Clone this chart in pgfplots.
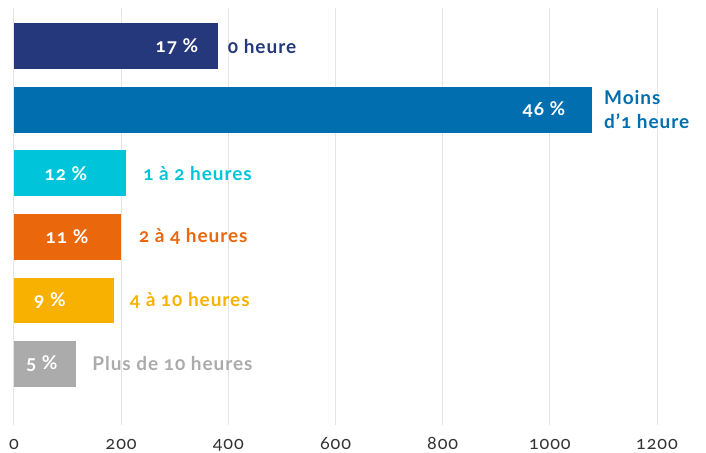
\documentclass[border=0pt]{standalone}
\usepackage{fontspec}
\setmainfont{Lato}[Numbers=OldStyle, LetterSpace=5]
\usepackage{pgfplots}
\pgfplotsset{compat=1.18}
\definecolor{cA}{RGB}{37,56,123}
\definecolor{cB}{RGB}{0,110,175}
\definecolor{cC}{RGB}{0,197,218}
\definecolor{cD}{RGB}{234,103,12}
\definecolor{cE}{RGB}{248,177,0}
\definecolor{cF}{RGB}{171,171,171}
\begin{document}
\begin{tikzpicture}[x=1pt,y=1pt]
\useasboundingbox (0,0) rectangle (706,452);
\begin{axis}[
  at={(14pt,27pt)}, anchor=south west,
  scale only axis, width=643pt, height=417pt,
  xmin=0, xmax=1200, ymin=-0.96, ymax=5.6,
  axis line style={draw=none},
  ytick=\empty,
  xtick={0,200,400,600,800,1000,1200},
  major tick length=0pt,
  xmajorgrids,
  grid style={color=black!10, line width=1pt},
  /pgf/number format/assume math mode=true,
  /pgf/number format/1000 sep={},
  xticklabel style={anchor=base, yshift=-24pt, font=\fontsize{18}{18}\selectfont, text=black!80},
  xbar, bar width=0.72, bar shift=0pt,
  clip=false,
]
\addplot[draw=none, fill=cA] coordinates {(381,5)};
\addplot[draw=none, fill=cB] coordinates {(1078,4)};
\addplot[draw=none, fill=cC] coordinates {(209,3)};
\addplot[draw=none, fill=cD] coordinates {(200,2)};
\addplot[draw=none, fill=cE] coordinates {(187,1)};
\addplot[draw=none, fill=cF] coordinates {(116,0)};
\begin{scope}[every node/.style={font=\fontsize{19}{24}\selectfont\bfseries}]
\node[text=white] at (axis cs:304,5) {17 \%};
\node[text=white] at (axis cs:989,4) {46 \%};
\node[text=white] at (axis cs:97,3) {12 \%};
\node[text=white] at (axis cs:99,2) {11 \%};
\node[text=white] at (axis cs:67,1) {9 \%};
\node[text=white] at (axis cs:52,0) {5 \%};
\node[text=cA, anchor=west, inner sep=0pt] at (axis cs:399,5) {0 heure};
\node[text=cB, anchor=west, inner sep=0pt, align=left] at (axis cs:1101,4) {Moins\\d'1 heure};
\node[text=cC, anchor=west, inner sep=0pt] at (axis cs:241,3) {1 à 2 heures};
\node[text=cD, anchor=west, inner sep=0pt] at (axis cs:233,2) {2 à 4 heures};
\node[text=cE, anchor=west, inner sep=0pt] at (axis cs:216,1) {4 à 10 heures};
\node[text=cF, anchor=west, inner sep=0pt] at (axis cs:146,0) {Plus de 10 heures};
\end{scope}
\end{axis}
\end{tikzpicture}
\end{document}
